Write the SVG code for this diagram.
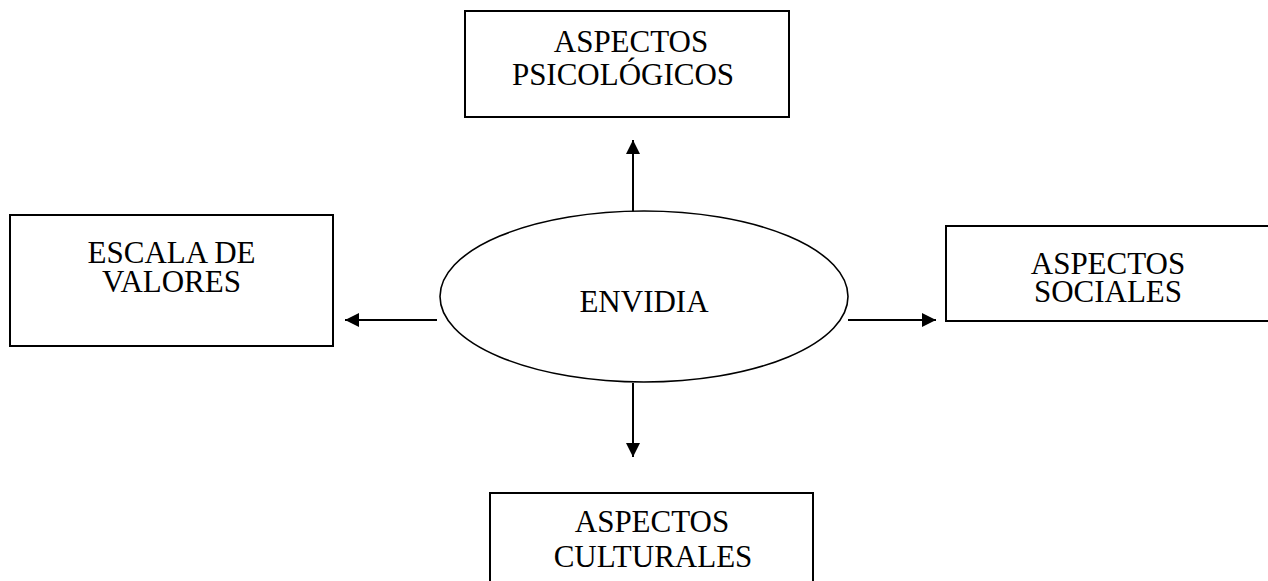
<svg xmlns="http://www.w3.org/2000/svg" width="1268" height="581" viewBox="0 0 1268 581">
<style>
.box{fill:#fff;stroke:#000;stroke-width:2}
.ell{fill:#fff;stroke:#000;stroke-width:1.6}
.t{font-family:"Liberation Serif","Times New Roman",serif;font-size:31px;fill:#000;text-anchor:middle}
.c{stroke:#000;stroke-width:2;fill:none;marker-end:url(#ah)}
</style>
<defs>
<marker id="ah" viewBox="0 0 10 10" refX="10" refY="5" markerUnits="userSpaceOnUse" markerWidth="17" markerHeight="14" orient="auto">
<path d="M0,0 L10,5 L0,10 Z" fill="#000"/>
</marker>
</defs>
<rect width="1268" height="581" fill="#fff"/>
<g id="connectors">
<line class="c" x1="633" y1="214" x2="633" y2="140"/>
<line class="c" x1="437" y1="320" x2="345" y2="320"/>
<line class="c" x1="848" y1="320" x2="936" y2="320"/>
<line class="c" x1="633" y1="383" x2="633" y2="457"/>
</g>
<g id="node-psicologicos">
<rect class="box" x="465" y="11" width="324" height="106"/>
<text class="t" x="631" y="52">ASPECTOS</text>
<text class="t" x="623" y="85">PSICOLÓGICOS</text>
</g>
<g id="node-escala">
<rect class="box" x="10" y="215" width="323" height="131"/>
<text class="t" x="171.5" y="263">ESCALA DE</text>
<text class="t" x="171.5" y="292">VALORES</text>
</g>
<g id="node-envidia">
<ellipse class="ell" cx="644" cy="296.5" rx="204" ry="85.5"/>
<text class="t" x="644" y="312">ENVIDIA</text>
</g>
<g id="node-sociales">
<rect class="box" x="946" y="226" width="340" height="95"/>
<text class="t" x="1108" y="274">ASPECTOS</text>
<text class="t" x="1108" y="302">SOCIALES</text>
</g>
<g id="node-culturales">
<rect class="box" x="490" y="493" width="323" height="110"/>
<text class="t" x="652" y="532">ASPECTOS</text>
<text class="t" x="653" y="567">CULTURALES</text>
</g>
</svg>
